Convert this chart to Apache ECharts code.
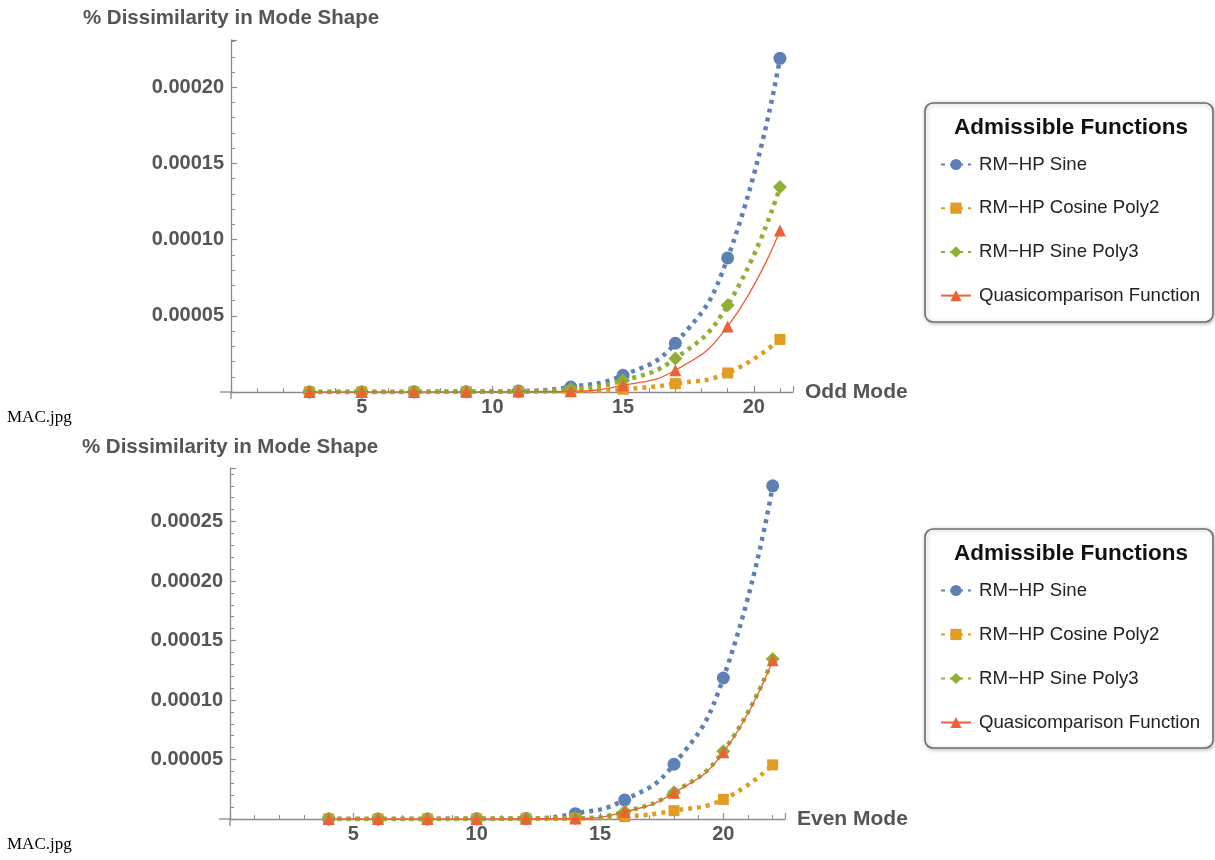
<!DOCTYPE html>
<html>
<head>
<meta charset="utf-8">
<script src="https://cdn.jsdelivr.net/npm/echarts@6/dist/echarts.min.js"></script>
<style>html,body{margin:0;padding:0;background:#fff}#c{width:1215px;height:860px}</style>
</head>
<body>
<div id="c"></div>
<script>
// ---- data ----
const seriesNames = ['RM\u2212HP Sine', 'RM\u2212HP Cosine Poly2', 'RM\u2212HP Sine Poly3', 'Quasicomparison Function'];
const oddModes = [3, 5, 7, 9, 11, 13, 15, 17, 19, 21];
const oddSine = [2e-8, 5e-8, 1e-7, 2e-7, 6e-7, 3.3e-6, 1.1e-5, 3.2e-5, 8.8e-5, 2.19e-4];
const oddCosPoly2 = [1e-8, 2e-8, 4e-8, 8e-8, 2e-7, 5e-7, 1.8e-6, 5.5e-6, 1.25e-5, 3.45e-5];
const oddSinePoly3 = [1e-8, 3e-8, 6e-8, 1.5e-7, 4e-7, 2e-6, 7.5e-6, 2.2e-5, 5.7e-5, 1.345e-4];
const oddQuasi = [1e-8, 2e-8, 5e-8, 1e-7, 3e-7, 5e-7, 4.4e-6, 1.43e-5, 4.3e-5, 1.06e-4];

const evenModes = [4, 6, 8, 10, 12, 14, 16, 18, 20, 22];
const evenSine = [2e-8, 5e-8, 1e-7, 2e-7, 5e-7, 4.5e-6, 1.6e-5, 4.6e-5, 1.185e-4, 2.8e-4];
const evenCosPoly2 = [1e-8, 2e-8, 4e-8, 8e-8, 2e-7, 5e-7, 2e-6, 7e-6, 1.65e-5, 4.55e-5];
const evenSinePoly3 = [1e-8, 3e-8, 6e-8, 1.5e-7, 3e-7, 6e-7, 6.2e-6, 2.25e-5, 5.7e-5, 1.345e-4];
const evenQuasi = [1e-8, 2e-8, 5e-8, 1e-7, 2e-7, 4e-7, 6e-6, 2.2e-5, 5.6e-5, 1.335e-4];

const yTickValues = [0.00005, 0.00010, 0.00015, 0.00020, 0.00025];
const xTickValues = [5, 10, 15, 20];
const legendTitle = 'Admissible Functions';
const yTitle = '% Dissimilarity in Mode Shape';
const xTitles = ['Odd Mode', 'Even Mode'];
const captions = ['MAC.jpg', 'MAC.jpg'];

// ---- styles ----
const colors = ['#5E81B5', '#E19C24', '#8FB032', '#EB6235'];
const symbols = ['circle', 'rect', 'diamond', 'triangle'];
const symbolSizes = [13, 11, 14, 12];
const labelColor = '#555';
const axisColor = '#8c8c8c';
const font = 'Liberation Sans, Arial, sans-serif';

function pairs(xs, ys) { return xs.map((x, i) => [x, ys[i]]); }

function mkSeries(gi, xs, arrs) {
  return arrs.map((ys, k) => ({
    name: seriesNames[k],
    type: 'line',
    xAxisIndex: gi, yAxisIndex: gi,
    data: pairs(xs, ys),
    smooth: 0.5,
    symbol: symbols[k],
    symbolSize: symbolSizes[k],
    color: colors[k],
    itemStyle: { color: colors[k] },
    lineStyle: k === 3
      ? { color: colors[k], width: 1.3, type: 'solid' }
      : { color: colors[k], width: 4.5, type: [4, 5], cap: 'butt' },
    z: 2 + k,
    animation: false
  }));
}

function yLabelFmt(v) {
  for (const t of yTickValues) if (Math.abs(v - t) < 1e-9) return t.toFixed(5);
  return '';
}
function xLabelFmt(v) {
  for (const t of xTickValues) if (Math.abs(v - t) < 1e-6) return String(t);
  return '';
}

function mkX(gi, max) {
  return {
    gridIndex: gi, type: 'value', min: 0, max: max, interval: 5,
    name: xTitles[gi], nameLocation: 'end', nameGap: 12,
    nameTextStyle: { color: labelColor, fontSize: 21, fontWeight: 'bold', fontFamily: font },
    axisLine: { show: true, onZero: false, lineStyle: { color: axisColor, width: 1.3 } },
    axisTick: { show: true, inside: true, length: 6, lineStyle: { color: axisColor, width: 1.2 } },
    minorTick: { show: true, splitNumber: 5, length: 4, lineStyle: { color: axisColor, width: 1 } },
    axisLabel: { formatter: xLabelFmt, color: labelColor, fontSize: 20, fontWeight: 'bold', fontFamily: font, margin: 5, showMaxLabel: false, showMinLabel: false },
    splitLine: { show: false }, minorSplitLine: { show: false }
  };
}
function mkY(gi, max, gap) {
  return {
    gridIndex: gi, type: 'value', min: 0, max: max, interval: 0.00005,
    name: yTitle, nameLocation: 'end', nameGap: gap,
    nameTextStyle: { color: labelColor, fontSize: 20.5, fontWeight: 'bold', fontFamily: font, align: 'center' },
    axisLine: { show: true, onZero: false, lineStyle: { color: axisColor, width: 1.3 } },
    axisTick: { show: true, inside: true, length: 6, lineStyle: { color: axisColor, width: 1.2 } },
    minorTick: { show: true, splitNumber: 5, length: 4, lineStyle: { color: axisColor, width: 1 } },
    axisLabel: { formatter: yLabelFmt, color: labelColor, fontSize: 20, fontWeight: 'bold', fontFamily: font, margin: 7, showMaxLabel: false, showMinLabel: false },
    splitLine: { show: false }, minorSplitLine: { show: false }
  };
}

function mkLegend(top, gap) {
  return {
    data: seriesNames, orient: 'vertical', left: 940, top: top, padding: 0,
    itemWidth: 30, itemHeight: 14, itemGap: gap,
    selectedMode: false,
    textStyle: { color: '#222', fontSize: 18.6, fontFamily: font, lineHeight: 19, padding: [0, 0, 0, 3] }
  };
}

function legendBox(y) {
  return [
    { type: 'rect', shape: { x: 925, y: y, width: 288, height: 219, r: 8 },
      style: { fill: '#fff', stroke: '#6e6e6e', lineWidth: 1.6, shadowBlur: 4, shadowColor: 'rgba(0,0,0,0.25)', shadowOffsetX: 1, shadowOffsetY: 1 }, z: 0 },
    { type: 'text', x: 1071, y: y + 25, style: { text: legendTitle, fill: '#111', font: 'bold 22.5px ' + font, textAlign: 'center', textVerticalAlign: 'middle' }, z: 1 }
  ];
}

// small axis overhangs at the origin (Mathematica style axes crossing)
function overhang(x0, y0) {
  const st = { stroke: axisColor, lineWidth: 1.3 };
  return [
    { type: 'line', shape: { x1: x0 - 11, y1: y0, x2: x0, y2: y0 }, style: st, silent: true },
    { type: 'line', shape: { x1: x0, y1: y0, x2: x0, y2: y0 + 7 }, style: st, silent: true }
  ];
}

const chart = echarts.init(document.getElementById('c'), null, { renderer: 'canvas' });
chart.setOption({
  animation: false,
  backgroundColor: '#fff',
  grid: [
    { left: 231, top: 40, width: 562, height: 352 },
    { left: 230, top: 468, width: 555, height: 351 }
  ],
  xAxis: [mkX(0, 21.5), mkX(1, 22.5)],
  yAxis: [mkY(0, 0.000231, 11), mkY(1, 0.000295, 10)],
  legend: [mkLegend(155, 24.7), mkLegend(581, 25)],
  graphic: [
    ...legendBox(103),
    ...legendBox(529),
    ...overhang(231, 392),
    ...overhang(230, 819),
    { type: 'text', x: 7, y: 418, style: { text: captions[0], fill: '#000', font: '17px Liberation Serif, DejaVu Serif, serif', textVerticalAlign: 'middle' } },
    { type: 'text', x: 7, y: 845, style: { text: captions[1], fill: '#000', font: '17px Liberation Serif, DejaVu Serif, serif', textVerticalAlign: 'middle' } }
  ],
  series: [
    ...mkSeries(0, oddModes, [oddSine, oddCosPoly2, oddSinePoly3, oddQuasi]),
    ...mkSeries(1, evenModes, [evenSine, evenCosPoly2, evenSinePoly3, evenQuasi])
  ]
});
</script>
</body>
</html>
